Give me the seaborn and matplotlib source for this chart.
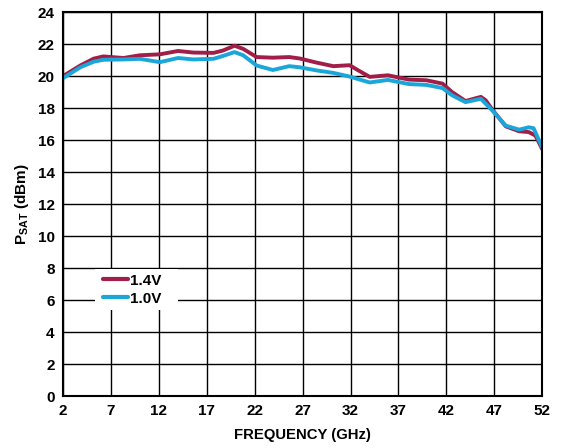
import matplotlib
matplotlib.use("Agg")
import matplotlib.pyplot as plt
from matplotlib.patches import Rectangle
import seaborn as sns
import pandas as pd

freq_14 = [2.0, 3.8, 5.2, 6.2, 8.3, 10.0, 12.1, 14.0, 15.6, 17.7, 18.7, 19.9, 20.8, 22.2, 23.9, 25.6, 26.7,
           28.4, 30.2, 31.9, 32.8, 34.0, 35.9, 38.1, 39.9, 41.6, 42.6, 44.0, 45.6, 46.1, 46.8, 48.2, 49.6,
           50.6, 51.3, 52.0]
psat_14 = [20.0, 20.66, 21.09, 21.23, 21.13, 21.3, 21.36, 21.57, 21.47, 21.45, 21.6, 21.9, 21.7, 21.19,
           21.15, 21.19, 21.1, 20.85, 20.62, 20.68, 20.36, 19.95, 20.05, 19.78, 19.74, 19.53, 19.0, 18.44,
           18.7, 18.49, 17.9, 16.86, 16.55, 16.5, 16.28, 15.44]
freq_10 = [2.0, 3.8, 5.2, 6.2, 8.3, 10.0, 12.1, 14.0, 15.6, 17.7, 18.7, 19.9, 20.8, 22.2, 23.9, 25.6, 26.7,
           28.4, 30.2, 31.9, 34.0, 35.9, 38.1, 39.9, 41.6, 42.6, 44.0, 45.6, 46.8, 48.2, 49.6, 50.6, 51.1,
           52.0]
psat_10 = [19.87, 20.55, 20.9, 21.02, 21.04, 21.08, 20.87, 21.13, 21.04, 21.08, 21.26, 21.5, 21.3, 20.66,
           20.38, 20.62, 20.55, 20.36, 20.2, 19.97, 19.6, 19.76, 19.5, 19.45, 19.25, 18.8, 18.37, 18.58,
           17.85, 16.9, 16.65, 16.8, 16.74, 15.55]
series_labels = ["1.4V", "1.0V"]
x_ticks = [2, 7, 12, 17, 22, 27, 32, 37, 42, 47, 52]
y_ticks = list(range(0, 25, 2))

df = pd.concat([
    pd.DataFrame({"f": freq_14, "p": psat_14, "s": series_labels[0]}),
    pd.DataFrame({"f": freq_10, "p": psat_10, "s": series_labels[1]}),
])

sns.set_theme(style="white")
plt.rcParams['font.family'] = ['Liberation Sans', 'DejaVu Sans']
plt.rcParams['font.weight'] = 'bold'
plt.rcParams['mathtext.fontset'] = 'custom'
plt.rcParams['mathtext.rm'] = 'Liberation Sans:bold'
plt.rcParams['mathtext.it'] = 'Liberation Sans:bold'
plt.rcParams['mathtext.bf'] = 'Liberation Sans:bold'

fig = plt.figure(figsize=(5.63, 4.48), dpi=100)
ax = fig.add_axes([0.112, 0.116, 0.851, 0.857])

palette = {"1.4V": "#A01E48", "1.0V": "#1BA6DA"}
sns.lineplot(data=df, x="f", y="p", hue="s", palette=palette, hue_order=series_labels,
             linewidth=2.8, ax=ax, sort=True)

ax.set_xlim(2, 52)
ax.set_ylim(0, 24)
ax.set_xticks(x_ticks)
ax.set_yticks(y_ticks)
ax.grid(True, color="black", linewidth=1.0)
ax.set_axisbelow(True)
for sp in ax.spines.values():
    sp.set_color("black")
    sp.set_linewidth(1.5)
ax.tick_params(length=0, labelsize=11, pad=6, colors="black")
for lab in ax.get_xticklabels() + ax.get_yticklabels():
    lab.set_fontweight("bold")
ax.set_xlabel("FREQUENCY (GHz)", fontsize=10.75, fontweight="bold", color="black", labelpad=7)
ax.set_ylabel(r"P$_{\mathrm{SAT}}$ (dBm)", fontsize=11, fontweight="bold", color="black", labelpad=5)

# white box behind the legend that interrupts the grid
ax.add_patch(Rectangle((0.0668, 0.224), 0.173, 0.107, transform=ax.transAxes,
                       facecolor="white", edgecolor="none", zorder=1))

leg = ax.legend(loc="center left", bbox_to_anchor=(0.0835, 0.277), frameon=False, fontsize=11,
                handlelength=1.6, handletextpad=0.15, borderpad=0, borderaxespad=0, labelspacing=0.25)
for t in leg.get_texts():
    t.set_fontweight("bold")
    t.set_color("black")
for h in leg.get_lines():
    h.set_linewidth(3.0)

fig.savefig("out.png", dpi=100)
